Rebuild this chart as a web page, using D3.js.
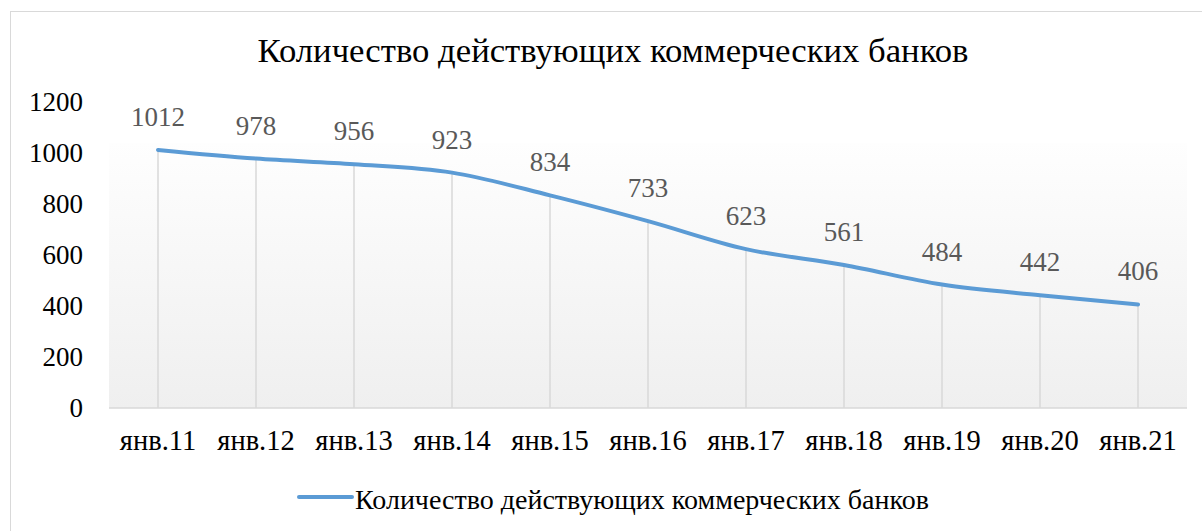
<!DOCTYPE html>
<html>
<head>
<meta charset="utf-8">
<script src="https://cdn.jsdelivr.net/npm/d3@7"></script>
<style>
  body { margin: 0; background: #fff; }
  svg { display: block; }
  svg text { font-family: "Liberation Serif", "Times New Roman", serif; }
</style>
</head>
<body>
<svg id="chart"></svg>
<script>
// Data
const categories = ["янв.11", "янв.12", "янв.13", "янв.14", "янв.15", "янв.16", "янв.17", "янв.18", "янв.19", "янв.20", "янв.21"];
const banks = [1012, 978, 956, 923, 834, 733, 623, 561, 484, 442, 406];
const yTicks = [0, 200, 400, 600, 800, 1000, 1200];
const seriesName = "Количество действующих коммерческих банков";

const W = 1202, H = 531;
const margin = { top: 102, right: 15, bottom: 123, left: 109 };
const width = W - margin.left - margin.right;
const height = H - margin.top - margin.bottom;
const serif = "\"Liberation Serif\", \"Times New Roman\", serif";

const svg = d3.select("#chart").attr("width", W).attr("height", H);

// outer chart border
svg.append("rect")
  .attr("x", 10.5).attr("y", 11.5)
  .attr("width", W).attr("height", H)
  .attr("fill", "#fff")
  .attr("stroke", "#d9d9d9")
  .attr("stroke-width", 1);

// title
svg.append("text")
  .attr("x", 613).attr("y", 62)
  .attr("text-anchor", "middle")
  .style("font-size", "34.7px")
  .attr("fill", "#000")
  .text(seriesName);

const g = svg.append("g").attr("transform", `translate(${margin.left},${margin.top})`);

const x = d3.scaleBand().domain(categories).range([0, width]);
const y = d3.scaleLinear().domain([0, 1200]).range([height, 0]);

// plot area background gradient
const grad = svg.append("defs").append("linearGradient")
  .attr("id", "bg-grad").attr("x1", 0).attr("y1", 0).attr("x2", 0).attr("y2", 1);
grad.append("stop").attr("offset", "0%").attr("stop-color", "#fefefe");
grad.append("stop").attr("offset", "100%").attr("stop-color", "#efefef");

g.append("rect")
  .attr("x", 0).attr("y", y(1040))
  .attr("width", width).attr("height", height - y(1040))
  .attr("fill", "url(#bg-grad)");

// drop lines
g.selectAll(".drop")
  .data(banks)
  .enter().append("line")
  .attr("class", "drop")
  .attr("x1", (d, i) => x(categories[i]) + x.bandwidth() / 2)
  .attr("x2", (d, i) => x(categories[i]) + x.bandwidth() / 2)
  .attr("y1", d => y(d))
  .attr("y2", y(0))
  .attr("stroke", "#d9d9d9")
  .attr("stroke-width", 1.5);

// baseline
g.append("line")
  .attr("x1", 0).attr("x2", width)
  .attr("y1", y(0)).attr("y2", y(0))
  .attr("stroke", "#d9d9d9")
  .attr("stroke-width", 1.5);

// y axis labels
const yAxis = d3.axisLeft(y).tickValues(yTicks).tickFormat(d3.format("d")).tickSize(0).tickPadding(26);
g.append("g")
  .call(yAxis)
  .attr("font-family", serif)
  .attr("font-size", 27)
  .call(a => a.select(".domain").remove())
  .selectAll("text")
  .attr("fill", "#000");

// x axis labels
const xAxis = d3.axisBottom(x).tickSize(0).tickPadding(22);
g.append("g")
  .attr("transform", `translate(0,${height})`)
  .call(xAxis)
  .attr("font-family", serif)
  .attr("font-size", 28.5)
  .call(a => a.select(".domain").remove())
  .selectAll("text")
  .attr("fill", "#000");

// line
const line = d3.line()
  .x((d, i) => x(categories[i]) + x.bandwidth() / 2)
  .y(d => y(d))
  .curve(d3.curveMonotoneX);

g.append("path")
  .datum(banks)
  .attr("fill", "none")
  .attr("stroke", "#5b9bd5")
  .attr("stroke-width", 4)
  .attr("stroke-linecap", "round")
  .attr("stroke-linejoin", "round")
  .attr("d", line);

// data labels
g.selectAll(".lbl")
  .data(banks)
  .enter().append("text")
  .attr("class", "lbl")
  .attr("x", (d, i) => x(categories[i]) + x.bandwidth() / 2)
  .attr("y", d => y(d) - 24)
  .attr("text-anchor", "middle")
  .style("font-size", "27px")
  .attr("fill", "#595959")
  .text(d => d);

// legend
const legend = svg.append("g").attr("transform", "translate(299,497)");
legend.append("line")
  .attr("x1", 0).attr("x2", 53)
  .attr("y1", 0).attr("y2", 0)
  .attr("stroke", "#5b9bd5")
  .attr("stroke-width", 4)
  .attr("stroke-linecap", "round");
legend.append("text")
  .attr("x", 56).attr("y", 12)
  .style("font-size", "28px")
  .attr("fill", "#000")
  .text(seriesName);
</script>
</body>
</html>
